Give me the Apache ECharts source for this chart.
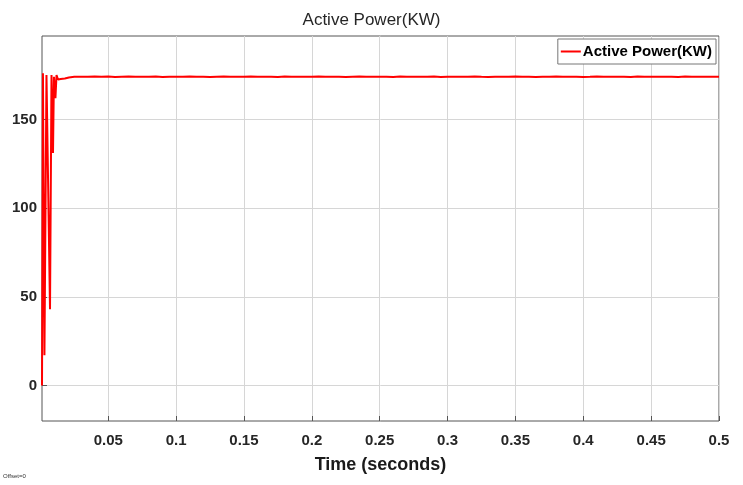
<!DOCTYPE html>
<html>
<head>
<meta charset="utf-8">
<script src="https://cdn.jsdelivr.net/npm/echarts@6/dist/echarts.min.js"></script>
<style>
html,body{margin:0;padding:0;background:#fff;}
#c{width:743px;height:485px;}
#off{position:absolute;left:3px;top:473px;font:6px 'Liberation Sans',Arial,sans-serif;color:#333;}
</style>
</head>
<body>
<div id="c"></div>
<div id="off">Offset=0</div>
<script>
const titleText = 'Active Power(KW)';
const seriesName = 'Active Power(KW)';
const xAxisName = 'Time (seconds)';
const xTicks = [0.05, 0.1, 0.15, 0.2, 0.25, 0.3, 0.35, 0.4, 0.45, 0.5];
const xTickLabels = ['0.05','0.1','0.15','0.2','0.25','0.3','0.35','0.4','0.45','0.5'];
const yTicks = [0, 50, 100, 150];
const xRange = [0.0012, 0.5];
const yRange = [-20, 197];

// start-up transient
const tStart = [0.0012, 0.0019, 0.0030, 0.0045, 0.0056, 0.0071, 0.0082, 0.0086, 0.0093, 0.0100, 0.0111, 0.0119, 0.0130, 0.0150, 0.0180, 0.0210, 0.0250];
const pStart = [0, 176, 17, 175, 176, 43, 175, 174, 131, 174, 162, 175, 172.5, 172.8, 173.1, 173.6, 174.0];

// steady state
const tSteady = [0.030,0.035,0.040,0.045,0.050,0.055,0.060,0.065,0.070,0.075,0.080,0.085,0.090,0.095,0.100,
  0.105,0.110,0.115,0.120,0.125,0.130,0.135,0.140,0.145,0.150,0.155,0.160,0.165,0.170,0.175,0.180,0.185,0.190,0.195,0.200,
  0.205,0.210,0.215,0.220,0.225,0.230,0.235,0.240,0.245,0.250,0.255,0.260,0.265,0.270,0.275,0.280,0.285,0.290,0.295,0.300,
  0.305,0.310,0.315,0.320,0.325,0.330,0.335,0.340,0.345,0.350,0.355,0.360,0.365,0.370,0.375,0.380,0.385,0.390,0.395,0.400,
  0.405,0.410,0.415,0.420,0.425,0.430,0.435,0.440,0.445,0.450,0.455,0.460,0.465,0.470,0.475,0.480,0.485,0.490,0.495,0.500];
const pSteady = [174.1,174.0,174.2,174.0,174.2,173.9,174.1,174.2,174.0,174.1,174.0,174.2,173.9,174.1,174.1,
  174.0,174.2,174.0,174.1,173.9,174.1,174.2,174.0,174.1,174.0,174.2,174.0,174.1,174.1,173.9,174.2,174.0,174.1,174.0,174.1,
  174.2,174.0,174.0,174.1,173.9,174.1,174.2,174.0,174.0,174.1,174.1,173.9,174.2,174.0,174.1,174.0,174.1,174.2,173.9,174.0,
  174.1,174.0,174.1,174.2,174.0,173.9,174.1,174.1,174.0,174.2,174.0,174.1,173.9,174.1,174.0,174.2,174.0,174.1,174.1,173.9,
  174.0,174.2,174.0,174.1,174.1,174.0,173.9,174.2,174.1,174.0,174.1,174.0,174.1,173.9,174.2,174.0,174.1,174.0,174.1,174.0];

const timeVals = tStart.concat(tSteady);
const powerVals = pStart.concat(pSteady);
const seriesData = timeVals.map((t, i) => [t, powerVals[i]]);

const FONT = "'Liberation Sans',Arial,sans-serif";
const chart = echarts.init(document.getElementById('c'), null, {renderer: 'canvas'});
chart.setOption({
  animation: false,
  backgroundColor: '#ffffff',
  title: {
    text: titleText, left: 'center', top: 7,
    textStyle: {fontFamily: FONT, fontSize: 17, fontWeight: 'normal', color: '#262626'}
  },
  legend: {
    data: [seriesName], right: 27, top: 39,
    backgroundColor: '#ffffff', borderColor: '#777', borderWidth: 1,
    padding: [5, 4, 5, 3], itemWidth: 20, itemHeight: 2, itemGap: 2,
    icon: 'rect',
    textStyle: {fontFamily: FONT, fontSize: 15, fontWeight: 'bold', color: '#000', padding: [0,0,0,-3]}
  },
  grid: {
    left: 42, right: 24, top: 36, bottom: 64,
    show: true, borderColor: '#555', borderWidth: 1, backgroundColor: '#fff'
  },
  xAxis: {
    type: 'value', min: xRange[0], max: xRange[1], position: 'bottom',
    name: xAxisName, nameLocation: 'middle', nameGap: 35,
    nameTextStyle: {fontFamily: FONT, fontSize: 18, fontWeight: 'bold', color: '#1a1a1a'},
    axisLine: {show: false, onZero: false},
    axisTick: {show: true, inside: true, length: 5, customValues: xTicks, lineStyle: {color: '#555'}},
    axisLabel: {
      customValues: xTicks, margin: 12,
      formatter: v => { const i = xTicks.findIndex(x => Math.abs(x - v) < 1e-9); return i >= 0 ? xTickLabels[i] : ''; },
      fontFamily: FONT, fontSize: 15, fontWeight: 'bold', color: '#262626'
    },
    splitLine: {show: true, lineStyle: {color: '#d6d6d6', width: 1}}
  },
  yAxis: {
    type: 'value', min: yRange[0], max: yRange[1],
    axisLine: {show: false, onZero: false},
    axisTick: {show: true, inside: true, length: 5, customValues: yTicks, lineStyle: {color: '#555'}},
    axisLabel: {customValues: yTicks, margin: 5, fontFamily: FONT, fontSize: 15, fontWeight: 'bold', color: '#262626'},
    splitLine: {show: true, lineStyle: {color: '#d6d6d6', width: 1}}
  },
  series: [{
    name: seriesName, type: 'line', data: seriesData,
    showSymbol: false, symbol: 'none',
    lineStyle: {color: '#ff0000', width: 2},
    itemStyle: {color: '#ff0000'}
  }]
});
</script>
</body>
</html>
